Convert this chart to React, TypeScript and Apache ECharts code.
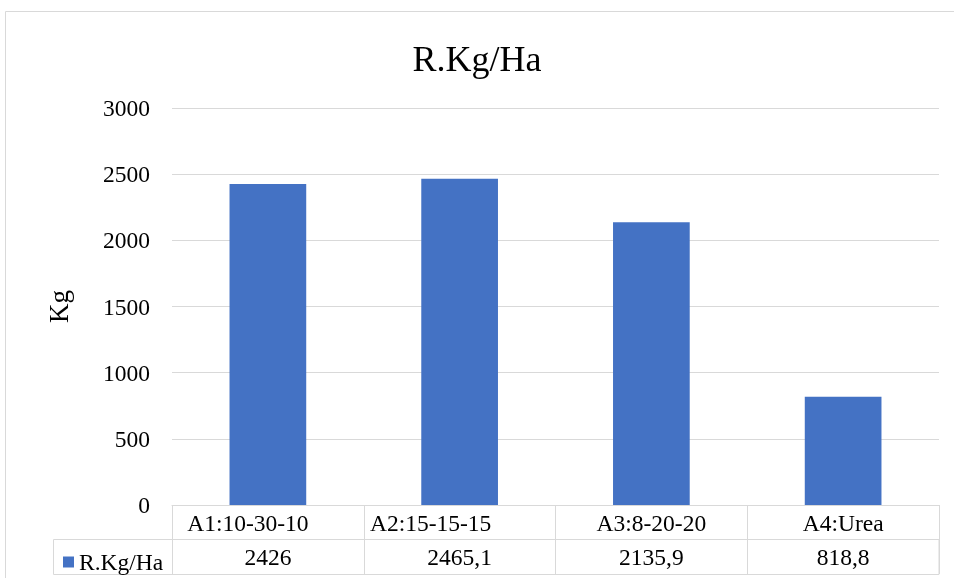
import React, { useEffect, useRef } from "react";
import * as echarts from "echarts";

const categories = ["A1:10-30-10", "A2:15-15-15", "A3:8-20-20", "A4:Urea"];
const values = [2426, 2465.1, 2135.9, 818.8];
const seriesName = "R.Kg/Ha";
const chartTitle = "R.Kg/Ha";
const yAxisName = "Kg";
const yMin = 0;
const yMax = 3000;
const yInterval = 500;

const FONT = "Liberation Serif";
const FS = 23.5;
const GRID_COLOR = "#d9d9d9";
const BAR_COLOR = "#4472C4";
const TEXT_COLOR = "#000000";
// header-cell text offsets (px to the left), as in the original table layout
const HEADER_PAD_RIGHT = [40, 58, 0, 0];

const fmt = (v: number) => String(v).replace(".", ",");

export default function App() {
  const ref = useRef<HTMLDivElement>(null);
  useEffect(() => {
    if (!ref.current) return;
    const chart = echarts.init(ref.current, null, { renderer: "svg" });
    const rich: Record<string, any> = {};
    HEADER_PAD_RIGHT.forEach((p, i) => {
      rich["h" + i] = {
        fontFamily: FONT,
        fontSize: FS,
        color: TEXT_COLOR,
        padding: [0, p, 0, 0],
      };
    });
    chart.setOption({
      animation: false,
      title: {
        text: chartTitle,
        left: "center",
        top: 36,
        textStyle: { fontFamily: FONT, fontSize: 36, fontWeight: "normal", color: TEXT_COLOR },
      },
      legend: {
        data: [seriesName],
        left: 58,
        top: 545,
        icon: "rect",
        itemWidth: 11,
        itemHeight: 11,
        textStyle: { fontFamily: FONT, fontSize: FS, color: TEXT_COLOR },
      },
      grid: { left: 172, right: 15, top: 108, bottom: 73 },
      xAxis: [
        {
          type: "category",
          data: categories,
          position: "bottom",
          axisLine: { lineStyle: { color: GRID_COLOR, width: 1 } },
          axisTick: { show: true, length: 34, interval: 0, lineStyle: { color: GRID_COLOR } },
          axisLabel: {
            fontFamily: FONT,
            fontSize: FS,
            color: TEXT_COLOR,
            margin: 6,
            interval: 0,
            formatter: (v: string, i: number) => "{h" + i + "|" + v + "}",
            rich,
          },
        },
        {
          type: "category",
          data: values.map(fmt),
          position: "bottom",
          offset: 34,
          axisLine: { lineStyle: { color: GRID_COLOR, width: 1 } },
          axisTick: { show: true, length: 35, interval: 0, lineStyle: { color: GRID_COLOR } },
          axisLabel: { fontFamily: FONT, fontSize: FS, color: TEXT_COLOR, margin: 6, interval: 0 },
        },
      ],
      yAxis: {
        type: "value",
        min: yMin,
        max: yMax,
        interval: yInterval,
        name: yAxisName,
        nameLocation: "middle",
        nameRotate: 90,
        nameGap: 100,
        nameTextStyle: { fontFamily: FONT, fontSize: 27, color: TEXT_COLOR },
        axisLine: { show: false },
        axisTick: { show: false },
        axisLabel: {
          fontFamily: FONT,
          fontSize: FS,
          color: TEXT_COLOR,
          margin: 22,
          formatter: (v: number) => String(v),
        },
        splitLine: { lineStyle: { color: GRID_COLOR, width: 1 } },
      },
      series: [
        {
          name: seriesName,
          type: "bar",
          data: values,
          xAxisIndex: 0,
          barWidth: "40%",
          itemStyle: { color: BAR_COLOR },
        },
      ],
      graphic: [
        {
          type: "rect",
          shape: { x: 5.5, y: 11.5, width: 1200, height: 1000 },
          style: { fill: "none", stroke: GRID_COLOR, lineWidth: 1 },
          silent: true,
        },
        {
          type: "rect",
          shape: { x: 53.5, y: 539.5, width: 885.5, height: 35 },
          style: { fill: "none", stroke: GRID_COLOR, lineWidth: 1 },
          silent: true,
        },
      ],
    });
    return () => chart.dispose();
  }, []);
  return (
    <div
      ref={ref}
      style={{ position: "fixed", left: 0, top: 0, width: 954, height: 578 }}
    />
  );
}
